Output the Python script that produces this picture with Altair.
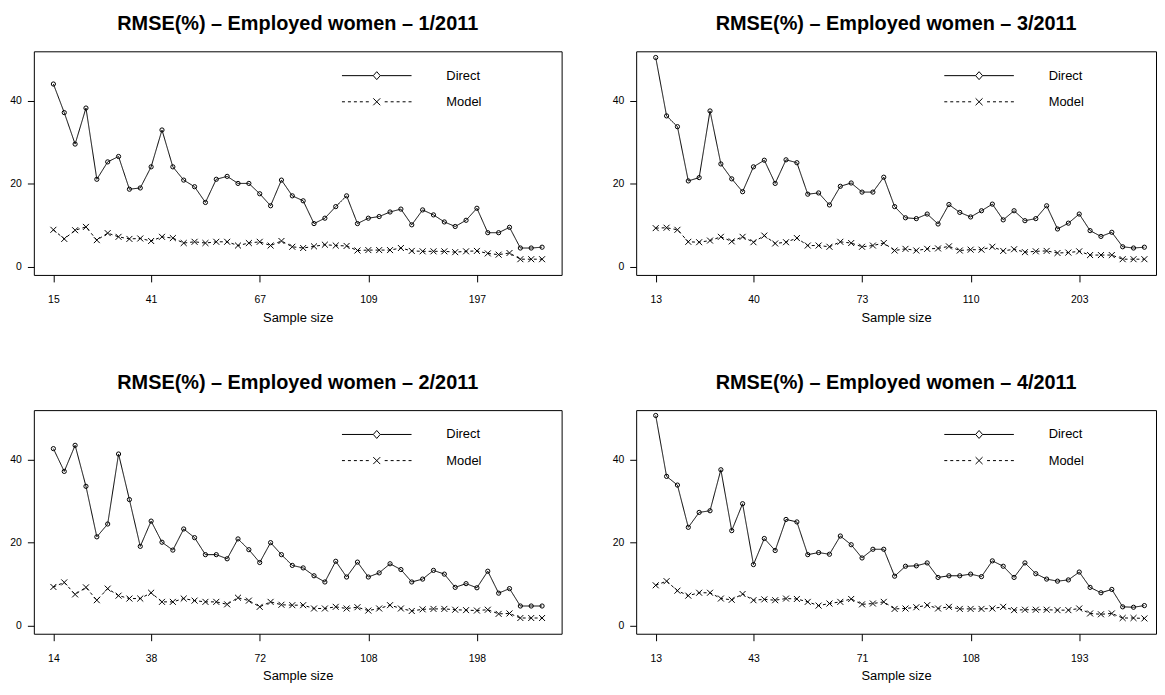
import altair as alt
import pandas as pd

SERIES = ["Direct", "Model"]
TICK_POS = [1, 10, 20, 30, 40]

TITLE_1 = "RMSE(%) – Employed women – 1/2011"
TITLE_2 = "RMSE(%) – Employed women – 2/2011"
TITLE_3 = "RMSE(%) – Employed women – 3/2011"
TITLE_4 = "RMSE(%) – Employed women – 4/2011"

TICKS_1 = ["15", "41", "67", "109", "197"]
TICKS_2 = ["14", "38", "72", "108", "198"]
TICKS_3 = ["13", "40", "73", "110", "203"]
TICKS_4 = ["13", "43", "71", "108", "193"]

DIRECT_1 = [44.1, 37.2, 29.6, 38.3, 21.1, 25.3, 26.6, 18.7, 19.0, 24.1,
            33.0, 24.1, 20.9, 19.3, 15.5, 21.1, 21.8, 20.1, 20.1, 17.6,
            14.7, 20.9, 17.1, 15.9, 10.4, 11.7, 14.5, 17.1, 10.4, 11.7,
            12.1, 13.2, 13.9, 10.1, 13.7, 12.5, 10.8, 9.7, 11.2, 14.1,
            8.2, 8.2, 9.5, 4.5, 4.5, 4.7]
MODEL_1 = [8.9, 6.7, 8.8, 9.6, 6.4, 8.1, 7.2, 6.7, 6.8, 6.2,
           7.2, 6.9, 5.7, 6.0, 5.7, 6.0, 6.0, 5.1, 5.7, 6.0,
           5.1, 6.2, 4.8, 4.5, 4.9, 5.3, 5.1, 5.0, 3.9, 4.0,
           4.0, 4.0, 4.5, 3.8, 3.7, 3.7, 3.7, 3.5, 3.7, 3.8,
           3.2, 2.9, 3.3, 1.8, 1.8, 1.8]

DIRECT_2 = [42.7, 37.2, 43.5, 33.6, 21.4, 24.5, 41.4, 30.4, 19.1, 25.2,
            20.1, 18.2, 23.3, 21.2, 17.1, 17.1, 16.1, 20.9, 18.3, 15.2,
            20.0, 17.1, 14.5, 13.9, 12.0, 10.5, 15.5, 11.7, 15.3, 11.7,
            12.7, 14.9, 13.5, 10.5, 11.2, 13.3, 12.4, 9.2, 10.1, 9.1,
            13.1, 7.8, 8.9, 4.7, 4.7, 4.7]
MODEL_2 = [9.3, 10.4, 7.5, 9.2, 6.1, 8.9, 7.2, 6.5, 6.5, 7.9,
           5.7, 5.7, 6.5, 6.0, 5.7, 5.7, 5.1, 6.7, 6.0, 4.5,
           5.7, 5.0, 4.9, 4.9, 4.1, 4.1, 4.5, 4.1, 4.4, 3.6,
           4.1, 4.9, 4.1, 3.5, 3.9, 4.0, 4.0, 3.8, 3.7, 3.6,
           3.8, 2.8, 2.9, 1.8, 1.8, 1.8]

DIRECT_3 = [50.5, 36.4, 33.8, 20.7, 21.5, 37.6, 24.8, 21.2, 18.1, 24.1,
            25.7, 20.1, 25.8, 25.1, 17.5, 17.8, 14.9, 19.4, 20.2, 18.0,
            18.0, 21.6, 14.5, 11.8, 11.6, 12.7, 10.3, 15.0, 13.1, 12.0,
            13.5, 15.1, 11.3, 13.5, 11.1, 11.6, 14.7, 9.1, 10.5, 12.7,
            8.7, 7.3, 8.3, 4.8, 4.5, 4.7]
MODEL_3 = [9.3, 9.4, 8.9, 6.0, 5.9, 6.3, 7.2, 6.1, 7.2, 5.9,
           7.5, 5.6, 5.9, 6.9, 5.1, 5.1, 4.8, 6.0, 5.7, 4.8,
           5.1, 5.7, 3.9, 4.3, 3.9, 4.3, 4.4, 4.9, 3.9, 4.1,
           4.1, 4.8, 3.8, 4.2, 3.5, 3.7, 3.8, 3.3, 3.4, 3.7,
           2.8, 2.8, 2.8, 1.8, 1.8, 1.8]

DIRECT_4 = [50.7, 36.0, 33.9, 23.7, 27.3, 27.7, 37.6, 22.9, 29.4, 14.7,
            21.0, 18.1, 25.6, 25.0, 17.1, 17.6, 17.2, 21.6, 19.5, 16.3,
            18.4, 18.4, 11.9, 14.3, 14.4, 15.1, 11.6, 12.0, 12.0, 12.4,
            11.8, 15.6, 14.3, 11.6, 15.1, 12.5, 11.2, 10.7, 11.0, 12.9,
            9.2, 7.9, 8.7, 4.5, 4.4, 4.8]
MODEL_4 = [9.7, 10.7, 8.4, 7.2, 7.9, 7.9, 6.5, 6.2, 7.6, 6.1,
           6.3, 6.1, 6.5, 6.4, 5.7, 4.8, 5.3, 5.7, 6.4, 5.1,
           5.3, 5.7, 4.0, 4.1, 4.4, 4.9, 4.1, 4.5, 4.0, 4.0,
           4.0, 4.1, 4.5, 3.7, 3.8, 3.8, 3.8, 3.7, 3.7, 4.1,
           2.9, 2.7, 2.9, 1.8, 1.8, 1.7]

FONT = "Liberation Sans"

# marker / legend symbol paths
X_MARK = "M-1,-1L1,1M-1,1L1,-1"
LEG_DIRECT = "M-5,0L-0.5,0M0.5,0L5,0M0,-0.57L0.5,0L0,0.57L-0.5,0Z"
LEG_MODEL = ("M-5,0L-4.571,0M-4.143,0L-3.714,0M-3.286,0L-2.857,0M-2.429,0L-2,0"
             "M-1.571,0L-1.143,0M1.143,0L1.571,0M2,0L2.429,0M2.857,0L3.286,0"
             "M3.714,0L4.143,0M4.571,0L5,0M-0.5,-0.5L0.5,0.5M-0.5,0.5L0.5,-0.5")


def panel(title, direct, model, ticks, width, x_max):
    n = len(direct)
    df = pd.DataFrame({
        "rank": list(range(1, n + 1)) * 2,
        "rmse": direct + model,
        "series": [SERIES[0]] * n + [SERIES[1]] * n,
    })
    label_expr = ("[" + ",".join("'%s'" % t for t in ticks) + "][indexof(["
                  + ",".join(str(p) for p in TICK_POS) + "], datum.value)]")
    x = alt.X("rank:Q",
              scale=alt.Scale(domain=[-0.8, x_max], nice=False, zero=False),
              axis=alt.Axis(values=TICK_POS, labelExpr=label_expr, title="Sample size",
                            tickSize=7, labelPadding=12.5, titlePadding=6.5,
                            titleFontSize=13, titleFontWeight="normal"))
    y = alt.Y("rmse:Q",
              scale=alt.Scale(domain=[-2, 52], nice=False, zero=False),
              axis=alt.Axis(values=[0, 20, 40], title=None, tickSize=6.5, labelPadding=6))
    base = alt.Chart(df).encode(x=x, y=y)
    lines = base.mark_line(color="black", strokeWidth=1).encode(
        strokeDash=alt.StrokeDash("series:N",
                                  scale=alt.Scale(domain=SERIES, range=[[1, 0], [3, 3]]),
                                  legend=None))
    pts_d = base.transform_filter(alt.datum.series == SERIES[0]).mark_point(
        shape="circle", size=18, color="black", filled=False, strokeWidth=1, opacity=1)
    pts_m = base.transform_filter(alt.datum.series == SERIES[1]).mark_point(
        shape=X_MARK, size=36, color="black", filled=False, strokeWidth=1, opacity=1)
    # invisible layer that only carries the legend (tiny marks so they add no extent)
    leg = base.mark_point(opacity=0, size=1, color="black", filled=False).encode(
        shape=alt.Shape("series:N",
                        scale=alt.Scale(domain=SERIES, range=[LEG_DIRECT, LEG_MODEL]),
                        legend=alt.Legend(title=None, orient="none", legendX=337.5, legendY=17,
                                          padding=0, symbolSize=196, symbolStrokeWidth=1,
                                          symbolStrokeColor="black", symbolFillColor="white",
                                          symbolOpacity=1, labelOffset=62.5, rowPadding=11.3,
                                          labelFont=FONT, labelFontSize=13, labelColor="black")))
    return alt.layer(lines, pts_d, pts_m, leg).properties(
        width=width, height=225,
        title=alt.Title(title, font=FONT, fontSize=20, fontWeight="bold", color="black",
                        anchor="middle", offset=17.5))


p1 = panel(TITLE_1, DIRECT_1, MODEL_1, TICKS_1, 531, 47.8)
p3 = panel(TITLE_3, DIRECT_3, MODEL_3, TICKS_3, 523, 47.07)
p2 = panel(TITLE_2, DIRECT_2, MODEL_2, TICKS_2, 531, 47.8)
p4 = panel(TITLE_4, DIRECT_4, MODEL_4, TICKS_4, 523, 47.07)

chart = alt.concat(p1, p3, p2, p4, columns=2, spacing={"row": 136, "column": 75},
                   bounds="flush").resolve_scale(
    shape="independent").resolve_legend(shape="independent").properties(
    padding={"left": 1, "top": 3.5, "right": 0, "bottom": 0}
).configure_view(stroke="black", strokeWidth=1).configure_axis(
    grid=False, domain=False, tickColor="black", tickWidth=1,
    labelFont=FONT, labelFontSize=10.5, labelColor="black",
    titleFont=FONT, titleColor="black"
)

chart.save("out.html", embed_options={"renderer": "svg", "actions": False})
